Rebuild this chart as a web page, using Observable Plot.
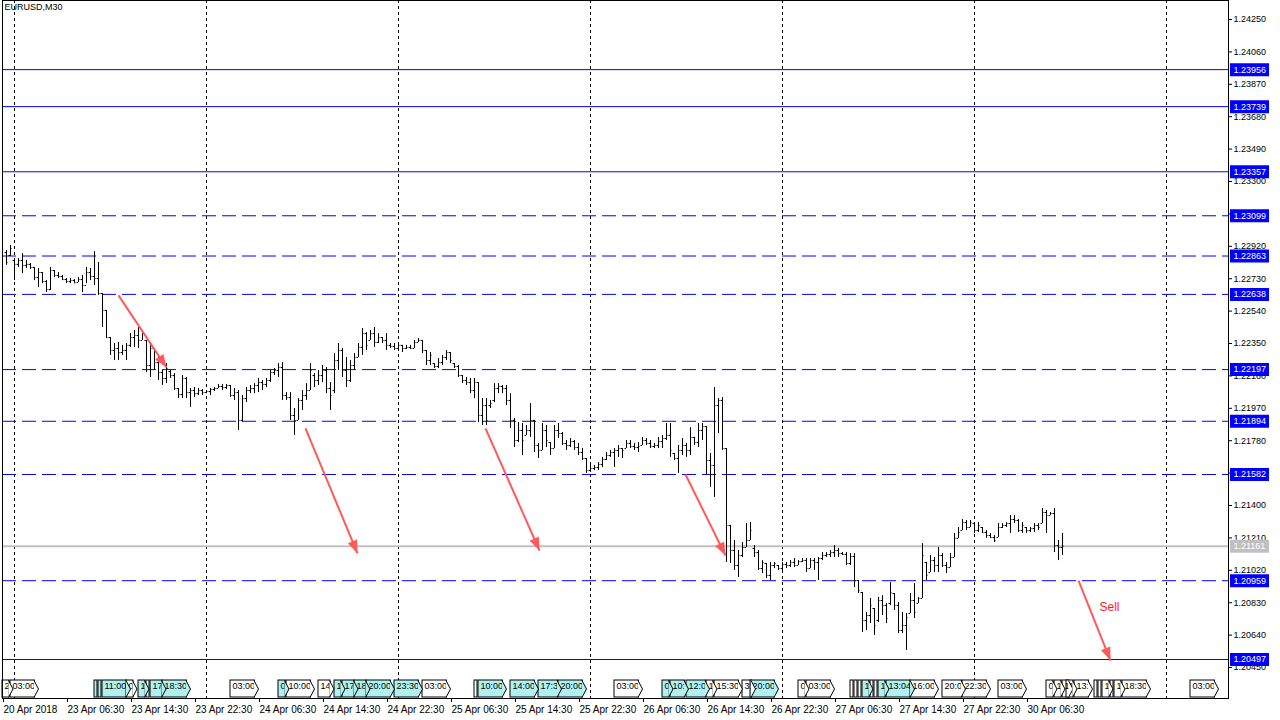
<!DOCTYPE html>
<html><head><meta charset="utf-8">
<script src="https://cdn.jsdelivr.net/npm/d3@7"></script>
<script src="https://cdn.jsdelivr.net/npm/@observablehq/plot@0.6"></script>
<style>html,body{margin:0;padding:0;background:#fff;overflow:hidden}</style>
</head><body><div id="chart"></div>
<script>
// EURUSD M30 bars (prices in points, 1e-5), bar index 0 = 20 Apr 23:00
const opens = [
122883,122866,122837,122814,122837,122808,122814,122796,122737,122766,
122713,122666,122778,122749,122743,122725,122713,122719,122707,122725,
122690,122766,122743,122731,122643,122544,122385,122309,122321,122297,
122309,122339,122385,122397,122368,122368,122221,122321,122238,122180,
122145,122186,122162,122086,122051,122145,122062,122074,122056,122074,
122062,122068,122080,122086,122098,122092,122104,122045,122062,121899,
122027,122074,122086,122104,122121,122110,122133,122180,122192,122209,
122045,122033,121928,121899,122016,122045,122074,122162,122133,122162,
122192,122086,122074,122250,122309,122192,122133,122221,122268,122327,
122408,122368,122408,122356,122385,122368,122339,122333,122321,122339,
122321,122327,122321,122356,122368,122309,122250,122232,122215,122238,
122268,122297,122232,122215,122162,122133,122121,122074,122121,121928,
121986,121986,122016,122086,122098,122086,122016,121899,121781,121840,
121811,121840,121899,121752,121723,121840,121769,121734,121840,121822,
121764,121752,121775,121740,121711,121676,121605,121617,121623,121641,
121670,121693,121711,121723,121734,121734,121764,121746,121740,121752,
121781,121764,121746,121752,121775,121793,121811,121705,121676,121723,
121752,121723,121799,121769,121840,121863,121664,121635,121986,122016,
121734,121283,121136,121048,121107,121154,121195,121148,121124,121030,
121060,120990,121048,121048,121030,121054,121048,121066,121048,121071,
121077,121030,121077,121066,121089,121107,121113,121124,121136,121118,
121113,121060,121101,120960,120890,120726,120755,120796,120726,120843,
120814,120826,120884,120814,120667,120696,120767,120843,120826,120855,
121066,121007,121077,121048,121107,121048,121036,121095,121207,121253,
121300,121271,121294,121253,121271,121242,121224,121212,121212,121271,
121283,121294,121318,121312,121253,121271,121253,121265,121283,121294,
121359,121341,121353,121165,121154];
const highs = [
122895,122925,122842,122848,122877,122837,122819,122796,122790,122766,
122719,122796,122778,122766,122749,122731,122731,122725,122737,122749,
122796,122790,122889,122825,122643,122544,122385,122350,122356,122339,
122350,122408,122426,122444,122426,122368,122356,122321,122280,122192,
122232,122192,122174,122086,122162,122151,122086,122092,122086,122080,
122074,122086,122092,122110,122110,122110,122104,122086,122074,122045,
122092,122104,122115,122145,122133,122145,122192,122203,122232,122238,
122062,122062,121969,122027,122074,122115,122232,122174,122192,122221,
122209,122121,122291,122350,122321,122268,122250,122291,122350,122438,
122414,122426,122444,122408,122385,122408,122350,122350,122350,122339,
122339,122339,122368,122379,122368,122309,122297,122232,122262,122280,
122309,122297,122232,122221,122162,122151,122145,122145,122121,122027,
122027,122016,122115,122115,122104,122104,122056,121910,121887,121881,
121869,121998,121899,121764,121881,121869,121769,121869,121881,121828,
121781,121793,121781,121764,121734,121676,121646,121635,121652,121682,
121711,121723,121734,121752,121734,121781,121781,121764,121769,121799,
121793,121781,121764,121799,121811,121881,121881,121705,121752,121793,
121764,121857,121799,121881,121881,121863,121705,122092,122027,122033,
121734,121283,121195,121136,121183,121294,121300,121165,121136,121077,
121060,121066,121066,121048,121066,121066,121077,121089,121077,121089,
121089,121089,121089,121095,121124,121124,121136,121165,121148,121124,
121124,121118,121118,120960,120890,120773,120855,120796,120861,120872,
120826,120948,120884,120831,120773,120767,120884,120942,120861,121177,
121066,121107,121095,121154,121118,121066,121118,121236,121271,121318,
121312,121312,121294,121300,121271,121253,121236,121224,121294,121294,
121300,121341,121341,121318,121300,121271,121271,121294,121294,121382,
121371,121359,121382,121195,121236];
const lows = [
122808,122860,122719,122796,122760,122790,122784,122719,122678,122701,
122649,122661,122737,122731,122719,122701,122701,122701,122707,122649,
122701,122719,122690,122632,122444,122379,122280,122250,122250,122280,
122250,122327,122327,122321,122368,122180,122151,122192,122133,122104,
122115,122145,122074,122027,122027,122027,121975,122033,122045,122045,
122056,122045,122068,122086,122074,122080,122033,122016,121840,121887,
122004,122056,122056,122062,122074,122092,122121,122162,122151,122016,
122016,121899,121811,121899,121957,122016,122074,122092,122104,122121,
122056,121957,122056,122192,122151,122092,122121,122192,122268,122280,
122309,122368,122327,122350,122350,122309,122321,122309,122309,122297,
122315,122315,122321,122356,122291,122221,122221,122203,122203,122221,
122250,122232,122203,122151,122115,122104,122056,122027,121887,121869,
121869,121969,122004,122056,122056,121986,121852,121740,121769,121693,
121811,121799,121711,121676,121723,121740,121693,121734,121793,121752,
121723,121740,121723,121693,121664,121588,121594,121605,121605,121623,
121664,121682,121623,121682,121676,121734,121734,121723,121711,121752,
121752,121734,121734,121734,121734,121781,121682,121664,121588,121693,
121682,121693,121752,121740,121781,121576,121506,121447,121822,121723,
121066,121060,121019,120978,121095,121154,121195,121095,121019,121001,
120972,120960,121030,121019,121007,121030,121036,121036,121048,121066,
121007,121030,121019,120960,121077,121095,121095,121095,121095,121107,
121048,121048,120919,120884,120655,120667,120708,120638,120714,120755,
120708,120814,120784,120649,120649,120550,120767,120737,120826,120855,
120960,121007,121007,121007,121036,121001,121036,121095,121207,121253,
121253,121271,121236,121242,121236,121207,121207,121183,121212,121265,
121271,121236,121294,121242,121236,121236,121242,121242,121253,121294,
121236,121341,121124,121077,121107];
const closes = [
122825,122907,122814,122837,122808,122814,122796,122737,122766,122713,
122666,122778,122749,122743,122725,122713,122719,122707,122725,122690,
122766,122743,122731,122643,122544,122385,122309,122321,122297,122309,
122339,122385,122397,122368,122414,122221,122321,122238,122180,122145,
122203,122162,122086,122051,122145,122062,122074,122056,122074,122062,
122068,122080,122086,122098,122092,122104,122045,122062,121899,122027,
122074,122086,122104,122121,122110,122133,122180,122192,122209,122045,
122033,121928,121899,122016,122045,122074,122192,122133,122162,122192,
122086,122045,122250,122309,122192,122133,122221,122268,122327,122408,
122339,122408,122356,122385,122368,122339,122333,122321,122339,122321,
122327,122321,122356,122368,122309,122250,122280,122215,122238,122268,
122297,122250,122215,122162,122133,122121,122074,122121,121928,121986,
121899,121998,122086,122098,122086,122016,121899,121781,121840,121781,
121840,121899,121752,121723,121840,121781,121734,121840,121822,121764,
121752,121775,121740,121711,121676,121605,121617,121623,121641,121670,
121693,121711,121723,121734,121723,121764,121746,121740,121746,121781,
121764,121746,121752,121775,121793,121811,121723,121676,121723,121752,
121723,121799,121769,121840,121863,121664,121635,121986,122016,121734,
121283,121136,121048,121107,121154,121195,121253,121124,121030,121066,
120990,121048,121060,121030,121054,121048,121066,121048,121071,121077,
121030,121077,121066,121089,121107,121113,121124,121136,121118,121113,
121060,121101,120960,120902,120726,120755,120814,120696,120843,120814,
120737,120890,120814,120667,120696,120743,120843,120773,120855,121107,
120990,121077,121048,121107,121048,121036,121095,121207,121242,121300,
121271,121300,121253,121283,121242,121224,121212,121195,121271,121283,
121294,121318,121312,121253,121283,121253,121265,121283,121271,121359,
121341,121353,121165,121154,121161];

// horizontal levels
const solidLevels = [1.23956, 1.23739, 1.23357, 1.20497];
const dashedLevels = [1.23099, 1.22863, 1.22638, 1.22197, 1.21894, 1.21582, 1.20959];
const bidPrice = 1.21161;

// axes
const yTicks = [1.2425,1.2406,1.2387,1.2368,1.2349,1.2330,1.2311,1.2292,1.2273,1.2254,1.2235,
                1.2216,1.2197,1.2178,1.2159,1.2140,1.2121,1.2102,1.2083,1.2064,1.2045];
const xTickIdx = [-1,15,31,47,63,79,95,111,127,143,159,175,191,207,223,239,255];
const xTickLabels = ["20 Apr 2018","23 Apr 06:30","23 Apr 14:30","23 Apr 22:30","24 Apr 06:30",
  "24 Apr 14:30","24 Apr 22:30","25 Apr 06:30","25 Apr 14:30","25 Apr 22:30","26 Apr 06:30",
  "26 Apr 14:30","26 Apr 22:30","27 Apr 06:30","27 Apr 14:30","27 Apr 22:30","30 Apr 06:30"];
const daySeparators = [2,50,98,146,194,242,290];

// trend arrows (bar index, price)
const arrowX1 = [28, 74.75, 119.75, 169.75, 268];
const arrowY1 = [1.22632, 1.21852, 1.21852, 1.21582, 1.20959];
const arrowX2 = [40, 87.75, 133.25, 179.75, 276];
const arrowY2 = [1.22209, 1.21119, 1.21136, 1.21107, 1.20491];
const signalText = "Sell";
const signalX = 275.75, signalY = 1.20802;

// calendar events (bar index of label, shown text, high-impact flag)
const eventIdx = [-1,1,22,23,24,30,33,35,36,39,56,68,70,78,82,84,87,90,97,104,
  117,118,126,133,138,152,164,166,170,175,177,184,186,198,200,
  211,212,213,214,216,217,218,220,226,234,239,248,
  260,262,264,265,267,272,273,274,276,277,279,296];
const eventText = ["2","03:00","","","11:00","0","1","","17","18:30","03:00","0","10:00","14","1","17","18","20:00","23:30","03:00",
  "","10:00","14:00","17:3","20:00","03:00","0","10:","12:0","1","15:30","3:","20:00","0","03:00",
  "","","","1","","","1","13:04","16:00","20:0","22:30","03:00",
  "0","1","1","1","13:","","","1","","1","18:30","03:00"];
const eventHot = [0,0,1,1,1,0,1,0,1,1,0,1,0,0,1,1,1,1,1,0,
  0,1,1,1,1,0,1,1,1,0,0,0,1,0,0,
  0,0,0,1,0,0,1,1,0,0,0,0,
  0,0,0,0,0,0,0,0,0,0,0,0];

const title = "EURUSD,M30";

// ---- build ----
const X_DOMAIN = [-1, 305.5], Y_DOMAIN = [1.202683, 1.243614];
const W = 1280, H = 720, ML = 2, MR = 52, MT = 0, MB = 22;
const pxPerBar = (W - ML - MR) / (X_DOMAIN[1] - X_DOMAIN[0]);
const pxPerPrice = (H - MT - MB) / (Y_DOMAIN[1] - Y_DOMAIN[0]);

const bars = opens.map((o, i) => ({i, o: o / 1e5, h: highs[i] / 1e5, l: lows[i] / 1e5, c: closes[i] / 1e5}));
const arrows = arrowX1.map((x, k) => {
  const dx = (arrowX2[k] - x) * pxPerBar, dy = (arrowY1[k] - arrowY2[k]) * pxPerPrice;
  return {x1: x, y1: arrowY1[k], x2: arrowX2[k], y2: arrowY2[k], angle: Math.atan2(dx, -dy) * 180 / Math.PI};
});
const headSymbol = {draw(ctx) { ctx.moveTo(0, 0); ctx.lineTo(5, 13); ctx.lineTo(-5, 13); ctx.closePath(); }};
const tipSymbol = {draw(ctx) { ctx.moveTo(-1, -8.5); ctx.lineTo(3.5, 0); ctx.lineTo(-1, 8.5); }};

const charW = ch => ch === ":" ? 2.5 : 5;
const boxPx = t => t.length ? [...t].reduce((s, c) => s + charW(c), 0) + 2 : 3;
const events = eventIdx.map((i, k) => ({i, t: eventText[k], hot: !!eventHot[k]}));
const boxFill = d => d.hot ? "#b0f0f0" : "#ffffff";
const fmt5 = d => d.toFixed(5);
const labelOf = new Map(xTickIdx.map((d, k) => [d, xTickLabels[k]]));
const FONT = "'Liberation Sans', Arial, sans-serif";
const allLevels = [...solidLevels, ...dashedLevels];
const BLUE = "#0000ff";
const RED = "#ff5a5a";

const plot = Plot.plot({
  width: W, height: H,
  marginLeft: ML, marginRight: MR, marginTop: MT, marginBottom: MB,
  style: {fontFamily: FONT, fontSize: "10px", background: "#fff", color: "#000"},
  x: {type: "linear", domain: X_DOMAIN},
  y: {type: "linear", domain: Y_DOMAIN},
  marks: [
    Plot.ruleX(daySeparators, {stroke: "#000", strokeDasharray: "3,3"}),
    Plot.ruleY(solidLevels, {stroke: BLUE}),
    Plot.ruleY(dashedLevels, {stroke: BLUE, strokeDasharray: "14,6"}),
    Plot.ruleY([bidPrice], {stroke: "#c0c0c0", strokeWidth: 2}),
    Plot.ruleX(bars, {x: "i", y1: "l", y2: "h", stroke: "#000"}),
    Plot.ruleY(bars, {y: "o", x1: d => d.i - 0.375, x2: "i", stroke: "#000"}),
    Plot.ruleY(bars, {y: "c", x1: "i", x2: d => d.i + 0.375, stroke: "#000"}),
    Plot.link(arrows, {x1: "x1", y1: "y1", x2: "x2", y2: "y2", stroke: RED, strokeWidth: 2}),
    Plot.dot(arrows, {x: "x2", y: "y2", symbol: headSymbol, rotate: "angle", fill: RED, stroke: "none"}),
    Plot.text([signalText], {x: signalX, y: signalY, text: d => d, fill: "#ff1a1a", fontSize: 12, fontFamily: FONT}),
    Plot.rect(events, {x1: "i", x2: d => d.i + boxPx(d.t) / pxPerBar, insetTop: 680, insetBottom: 1,
      fill: boxFill, stroke: "#000", strokeWidth: 1}),
    Plot.text(events, {x: d => d.i + 0.5, text: "t", frameAnchor: "bottom", dy: -9.5, textAnchor: "start", fontSize: 9, fill: "#000"}),
    Plot.dot(events.filter(d => d.t.length), {x: d => d.i + boxPx(d.t) / pxPerBar, frameAnchor: "bottom", dy: -9.5,
      symbol: tipSymbol, fill: boxFill, stroke: "#000", strokeWidth: 1}),
    Plot.frame({stroke: "#000"}),
    Plot.axisY({anchor: "right", ticks: yTicks, tickFormat: fmt5, tickSize: 3, tickPadding: 2, fontSize: 9, label: null}),
    Plot.axisX({anchor: "bottom", ticks: xTickIdx, tickFormat: d => labelOf.get(d), tickSize: 4, tickPadding: 3, textAnchor: "start", dx: 1, label: null}),
    Plot.ruleY(allLevels, {stroke: BLUE, strokeWidth: 13, insetLeft: 1187, dx: 41}),
    Plot.ruleY([bidPrice], {stroke: "#c0c0c0", strokeWidth: 13, insetLeft: 1187, dx: 41}),
    Plot.text([...allLevels, bidPrice], {y: d => d, text: fmt5, frameAnchor: "right", dx: 5, textAnchor: "start", fill: "#fff", fontSize: 9}),
    Plot.text([title], {frameAnchor: "top-left", text: d => d, dx: 2, dy: 3, textAnchor: "start", lineAnchor: "top", fontSize: 9, fill: "#000"})
  ]
});
document.getElementById("chart").appendChild(plot);
</script>
</body></html>
